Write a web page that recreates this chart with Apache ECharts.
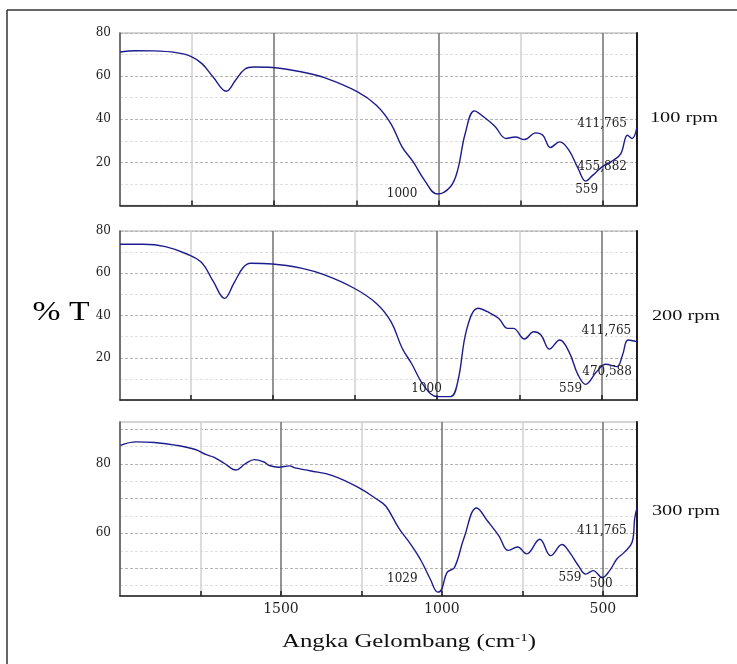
<!DOCTYPE html>
<html>
<head>
<meta charset="utf-8">
<script src="https://cdn.jsdelivr.net/npm/echarts@6/dist/echarts.min.js"></script>
<style>
html,body{margin:0;padding:0;background:#fff;}
#chart{width:737px;height:664px;}
</style>
</head>
<body>
<div id="chart"></div>
<script>
// ---- data ----
const wavenumber100 = [1968,1921,1865,1797,1753,1719,1685,1645,1617,1589,1561,1505,1415,1347,1246,1189,1145,1111,1077,1043,1004,964,942,919,891,863,829,795,767,739,705,683,660,632,604,576,553,531,503,469,446,426,412,397];
const transmittance100 = [71.2,71.8,71.7,70.9,69.2,65.8,59.6,53.0,58.1,63.2,64.2,64.0,61.9,59.3,52.7,46.5,38.0,27.2,20.2,11.8,5.3,8.7,16.4,33.4,43.9,41.1,36.8,31.1,31.8,30.6,33.7,32.6,26.9,29.5,25.7,17.2,11.3,14.1,17.9,21.0,24.1,32.6,31.1,36.5];

const wavenumber200 = [1964,1894,1826,1759,1714,1680,1646,1618,1590,1567,1500,1410,1342,1252,1185,1140,1106,1078,1038,999,959,937,909,875,847,813,785,768,734,706,684,658,627,599,571,548,515,487,453,436,419,392];
const transmittance200 = [73.7,73.7,72.6,69.0,64.7,56.0,48.1,55.2,62.6,64.7,64.4,62.3,59.2,52.9,45.8,37.1,24.5,17.4,6.3,1.6,1.6,8.7,33.9,43.4,41.8,38.7,33.9,33.9,28.9,32.3,30.8,24.1,28.4,22.9,11.8,7.4,13.4,16.9,15.8,21.3,28.4,27.6];

const wavenumber300 = [1999,1950,1893,1824,1766,1732,1709,1674,1640,1611,1582,1553,1536,1507,1473,1456,1410,1340,1260,1202,1174,1134,1099,1065,1036,1013,1001,984,961,932,892,857,823,794,765,737,696,662,627,604,576,553,530,502,479,456,433,409,401,394];
const transmittance300 = [85.3,86.3,86.1,85.3,84.1,82.6,81.9,80.0,78.2,80.0,81.2,80.5,79.5,79.0,79.4,78.8,78.0,76.6,73.2,69.8,67.8,61.5,57.1,52.2,46.8,43.1,43.9,48.8,50.2,58.5,67.3,63.4,59.3,55.1,56.1,54.1,58.3,53.6,56.8,54.6,50.7,48.3,49.3,47.3,49.3,52.7,54.6,57.5,64.4,67.3];

const panelNames = ['100 rpm', '200 rpm', '300 rpm'];
const xMin = [397, 392, 394];
const xMax = [1968, 1964, 2000];
const yMin = [0, 0, 42];
const yMax = [80, 80, 92];
const xGridTicks = [500, 750, 1000, 1250, 1500, 1750];
const xTickLabels = [500, 1000, 1500];
const yGridTicksTop = [0, 10, 20, 30, 40, 50, 60, 70, 80];
const yTickLabelsTop = [20, 40, 60, 80];
const yGridTicksBottom = [45, 50, 55, 60, 65, 70, 75, 80, 85, 90];
const yTickLabelsBottom = [60, 80];

const peaks100 = [['1000', 1111, 5.3], ['411,765', 503, 37.7], ['455,882', 503, 17.8], ['559', 550, 7.1]];
const peaks200 = [['1000', 1032, 5.2], ['411,765', 485, 32.7], ['470,588', 483, 13.3], ['559', 594, 5.2]];
const peaks300 = [['1029', 1123, 46.8], ['559', 602, 47.1], ['500', 505, 45.4], ['411,765', 503, 60.7]];

const xTitle = 'Angka Gelombang (cm';
const xTitleSup = '-1';
const xTitleEnd = ')';
const yTitle = '% T';

// ---- build chart ----
const SERIF = '"DejaVu Serif", serif';
const TIMES = '"Liberation Serif", "Times New Roman", serif';
const lineColor = '#1c1c8f';

const gridDefs = [
  {left: 120, right: 100, top: 33, height: 172.5},
  {left: 120, right: 100, top: 231, height: 169},
  {left: 120, right: 100, top: 422, height: 174}
];

const grids = gridDefs.map(g => Object.assign({show: true, borderColor: '#c8c8c8', borderWidth: 1.5, backgroundColor: 'rgba(0,0,0,0)'}, g));

const xAxes = [0, 1, 2].map(i => ({
  type: 'value', gridIndex: i, inverse: true, min: xMin[i], max: xMax[i],
  axisLine: {show: true, onZero: false, lineStyle: {color: '#1e1e1e', width: 1.5}},
  axisTick: {show: true, inside: true, length: 5, customValues: xGridTicks, lineStyle: {color: '#1e1e1e', width: 1.5}},
  axisLabel: {show: i === 2, customValues: xTickLabels, formatter: v => String(v), fontFamily: SERIF, fontSize: 14, color: '#1e1e1e', margin: 6},
  splitLine: {show: true, lineStyle: {color: ['#707070', '#d0d0d0'], width: 1.5}}
}));

const leftY = [0, 1, 2].map(i => {
  const bottom = i === 2;
  return {
    type: 'value', gridIndex: i, position: 'left', min: yMin[i], max: yMax[i],
    interval: bottom ? undefined : 10,
    axisLine: {show: true, onZero: false, lineStyle: {color: '#505050', width: 1.5}},
    axisTick: {show: false, customValues: bottom ? yGridTicksBottom : yGridTicksTop},
    axisLabel: {show: true, customValues: bottom ? yTickLabelsBottom : yTickLabelsTop, formatter: v => String(v), fontFamily: SERIF, fontSize: 12, color: '#1e1e1e', margin: 9},
    splitLine: {show: true, lineStyle: {color: bottom ? ['#e0e0e0', '#b4b4b4'] : ['#b4b4b4', '#e0e0e0'], width: 1, type: [3, 2]}}
  };
});
const rightY = [0, 1, 2].map(i => ({
  type: 'value', gridIndex: i, position: 'right', min: yMin[i], max: yMax[i],
  axisLine: {show: true, onZero: false, lineStyle: {color: '#1e1e1e', width: 2}},
  axisTick: {show: false}, axisLabel: {show: false}, splitLine: {show: false}
}));

function makeSeries(i, ws, ts, peaks) {
  return {
    type: 'line', xAxisIndex: i, yAxisIndex: i,
    data: ws.map((w, k) => [w, ts[k]]),
    showSymbol: false, symbol: 'none', smooth: 0.4,
    lineStyle: {color: lineColor, width: 1.4},
    markPoint: {
      symbol: 'circle', symbolSize: 1, silent: true,
      itemStyle: {color: 'rgba(0,0,0,0)'},
      label: {show: true, position: 'inside', formatter: p => p.name, fontFamily: SERIF, fontSize: 12, color: '#222'},
      data: peaks.map(p => ({name: p[0], coord: [p[1], p[2]]}))
    }
  };
}

const series = [
  makeSeries(0, wavenumber100, transmittance100, peaks100),
  makeSeries(1, wavenumber200, transmittance200, peaks200),
  makeSeries(2, wavenumber300, transmittance300, peaks300)
];

const panelLabelPos = [[684, 118], [686, 316], [686, 511]];
const graphics = [
  {type: 'line', shape: {x1: 7, y1: 10, x2: 737, y2: 10}, style: {stroke: '#333', lineWidth: 1.5}},
  {type: 'line', shape: {x1: 7, y1: 10, x2: 7, y2: 664}, style: {stroke: '#333', lineWidth: 1.5}},
  {type: 'text', x: 61, y: 313, scaleX: 1.2,
   style: {text: yTitle, font: '28px ' + TIMES, fill: '#000', align: 'center', verticalAlign: 'middle', textAlign: 'center', textVerticalAlign: 'middle'}},
  {type: 'text', x: 409, y: 642, scaleX: 1.38,
   style: {text: xTitle + '{sup|' + xTitleSup + '}' + xTitleEnd, font: '18px ' + TIMES, fill: '#111',
     align: 'center', verticalAlign: 'middle', textAlign: 'center', textVerticalAlign: 'middle',
     rich: {sup: {font: '11px ' + TIMES, fill: '#111', verticalAlign: 'top', padding: [0, 0, 7, 0]}}}}
].concat(panelNames.map((n, i) => ({
  type: 'text', x: panelLabelPos[i][0], y: panelLabelPos[i][1], scaleX: 1.45,
  style: {text: n, font: '14px ' + TIMES, fill: '#111', align: 'center', verticalAlign: 'middle', textAlign: 'center', textVerticalAlign: 'middle'}
})));

const chart = echarts.init(document.getElementById('chart'), null, {renderer: 'canvas'});
chart.setOption({
  animation: false,
  backgroundColor: '#fff',
  grid: grids,
  xAxis: xAxes,
  yAxis: leftY.concat(rightY),
  series: series,
  graphic: graphics
});
</script>
</body>
</html>
